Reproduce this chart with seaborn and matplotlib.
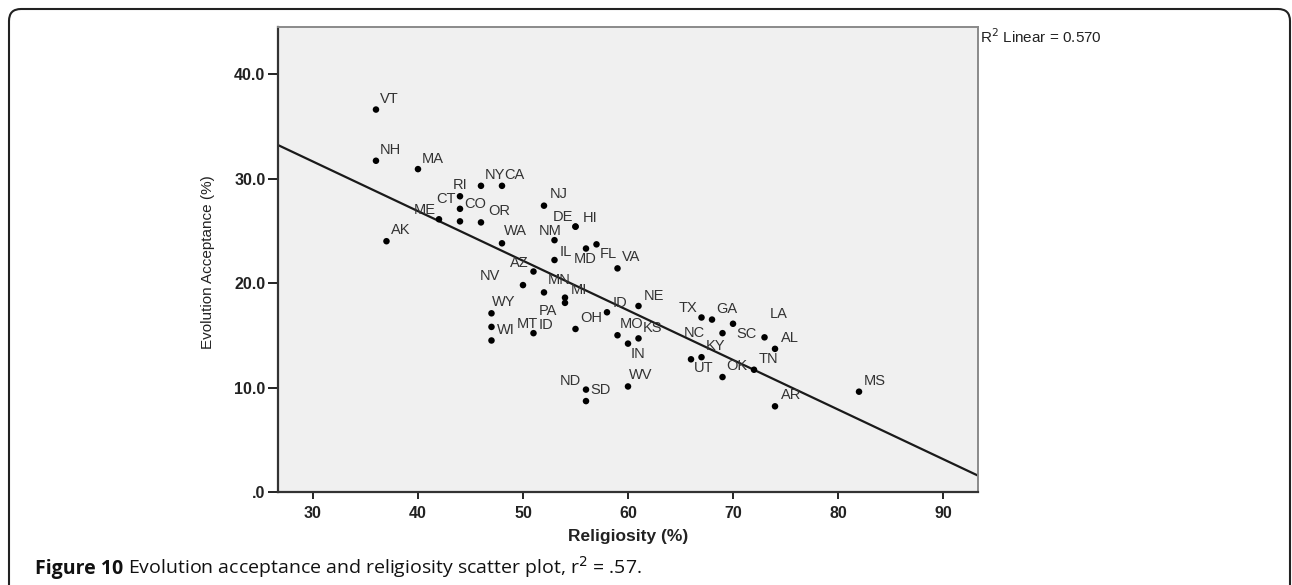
import matplotlib
matplotlib.use("Agg")
import matplotlib.pyplot as plt
import matplotlib.patches as mpatches
from matplotlib.transforms import IdentityTransform
import seaborn as sns
import pandas as pd

# data (religiosity %, evolution acceptance %)
states = ["VT", "NH", "MA", "AK", "NY", "CA", "RI", "CT", "CO", "ME",
          "OR", "NJ", "HI", "DE", "WA", "NM", "IL", "MD", "FL", "VA",
          "AZ", "NV", "MN", "MI", "PA", "WY", "MT", "WI", "ID", "OH",
          "ID", "NE", "MO", "KS", "IN", "ND", "SD", "WV", "TX", "GA",
          "SC", "NC", "LA", "AL", "UT", "KY", "OK", "TN", "AR", "MS"]
religiosity = [36, 36, 40, 37, 46, 48, 44, 44, 44, 42,
               46, 52, 55, 55, 48, 53, 53, 56, 57, 59,
               51, 50, 52, 54, 54, 47, 47, 47, 51, 55,
               58, 61, 59, 61, 60, 56, 56, 60, 67, 68,
               70, 69, 73, 74, 66, 67, 69, 72, 74, 82]
evolution = [36.6, 31.7, 30.9, 24.0, 29.3, 29.3, 28.3, 27.1, 25.9, 26.1,
             25.8, 27.4, 25.4, 25.4, 23.8, 24.1, 22.2, 23.3, 23.7, 21.4,
             21.1, 19.8, 19.1, 18.6, 18.1, 17.1, 15.8, 14.5, 15.2, 15.6,
             17.2, 17.8, 15.0, 14.7, 14.2, 9.8, 8.7, 10.1, 16.7, 16.5,
             16.1, 15.2, 14.8, 13.7, 12.7, 12.9, 11.0, 11.7, 8.2, 9.6]

y_ticks = [0, 10, 20, 30, 40]
y_ticklabels = [".0", "10.0", "20.0", "30.0", "40.0"]
x_ticks = [30, 40, 50, 60, 70, 80, 90]

df = pd.DataFrame({"state": states, "religiosity": religiosity, "evolution": evolution})

# label placement (pixels from the dot: left edge of text, vertical centre)
default_nudge = (4, 11)
nudge = {2: (4, 10), 5: (2, 11), 6: (-7, 11), 7: (-24, 10), 8: (4, 17), 9: (-25, 9),
         10: (7, 11), 11: (6, 12), 12: (7, 9), 13: (-23, 10), 14: (2, 12),
         15: (-16, 9), 16: (5, 8), 17: (-12, -10), 18: (3, -10), 20: (-24, 9),
         21: (-43, 9), 22: (4, 12), 23: (6, 8), 24: (-26, -8), 25: (0, 11),
         26: (25, 3), 27: (5, 10), 28: (5, 8), 29: (5, 11), 30: (6, 9),
         31: (5, 10), 32: (2, 11), 33: (4, 10), 34: (3, -10), 35: (-26, 9),
         37: (1, 11), 38: (-23, 9), 40: (3, -10), 41: (-39, 0), 42: (5, 23),
         43: (6, 11), 44: (3, -9), 47: (5, 11), 48: (6, 11), 49: (5, 11)}

plt.rcParams["font.family"] = ["Liberation Sans", "DejaVu Sans"]

fig = plt.figure(figsize=(12.92, 5.85), dpi=100)
ax = fig.add_axes([278 / 1292, 93 / 585, 700 / 1292, 465 / 585])
ax.set_facecolor("#f0f0f0")

ax.set_xlim(26.67, 93.33)
ax.set_ylim(0, 44.5)

sns.regplot(data=df, x="religiosity", y="evolution", ax=ax, scatter=False,
            ci=None, truncate=False, color="#1a1a1a", line_kws={"linewidth": 1.6})
sns.scatterplot(data=df, x="religiosity", y="evolution", ax=ax, color="black",
                s=22, edgecolor="none", zorder=3)

for i, row in df.iterrows():
    dx, dy = nudge.get(i, default_nudge)
    ax.annotate(row["state"], (row["religiosity"], row["evolution"]),
                xytext=(dx, dy), textcoords="offset pixels",
                ha="left", va="center", fontsize=10.5, color="#333333")

ax.set_xlim(26.67, 93.33)
ax.set_ylim(0, 44.5)
ax.set_xticks(x_ticks)
ax.set_yticks(y_ticks)
ax.set_yticklabels(y_ticklabels)
ax.tick_params(axis="y", length=7, width=1.4, pad=2, labelsize=11.5, colors="#222222")
ax.tick_params(axis="x", length=5, width=1.4, pad=5, labelsize=11.5, colors="#222222")
for lab in ax.get_xticklabels() + ax.get_yticklabels():
    lab.set_fontweight("bold")

for side in ["left", "bottom"]:
    ax.spines[side].set_color("#333333")
    ax.spines[side].set_linewidth(1.6)
for side in ["top", "right"]:
    ax.spines[side].set_color("#8a8a8a")
    ax.spines[side].set_linewidth(1.4)

ax.set_xlabel("Religiosity (%)", fontsize=12.5, fontweight="bold", color="#222222")
ax.xaxis.set_label_coords(0.5, -0.095)
ax.xaxis.label.set_va("center")
ax.set_ylabel("Evolution Acceptance (%)", fontsize=11, color="#222222",
              family=["Liberation Sans Narrow", "Liberation Sans", "DejaVu Sans"])
ax.yaxis.set_label_coords(-0.1, 0.495)
ax.yaxis.label.set_va("center")

fig.text(980 / 1292, (585 - 37) / 585, r"R$^2$ Linear = 0.570", fontsize=11,
         va="center", ha="left", color="#222222")

# outer rounded frame (bottom runs off the image)
frame = mpatches.FancyBboxPatch((9, -30), 1281, 606, boxstyle="round,pad=0,rounding_size=12",
                                transform=IdentityTransform(), fill=False,
                                edgecolor="#222222", linewidth=1.5)
fig.patches.append(frame)

# caption: bold figure number followed by regular text on the same baseline
cap_y = (585 - 574) / 585
cap1 = fig.text(35 / 1292, cap_y, "Figure 10", fontsize=14, fontweight="bold",
                va="baseline", ha="left", color="#111111", family=["Open Sans", "DejaVu Sans"])
fig.canvas.draw()
x_end = cap1.get_window_extent().x1 / fig.bbox.width
fig.text(x_end, cap_y, " Evolution acceptance and religiosity scatter plot, r$^2$ = .57.",
         fontsize=14, va="baseline", ha="left", color="#111111",
         family=["Open Sans", "DejaVu Sans"])

fig.savefig("out.png", dpi=100)
